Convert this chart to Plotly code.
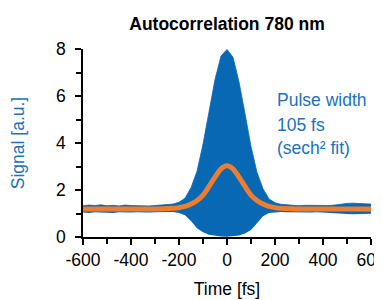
import plotly.graph_objects as go

# Time axis [fs]
time_fs = list(range(-600, 625, 25))

# Interferometric autocorrelation: upper and lower envelope of the fringes
upper_env = [1.33, 1.36, 1.34, 1.37, 1.33, 1.35, 1.32, 1.36, 1.34, 1.33,
             1.35, 1.32, 1.34, 1.35, 1.37, 1.40, 1.48, 1.65, 2.10, 2.80,
             3.95, 5.35, 6.70, 7.70, 7.98, 7.65, 6.60, 5.25, 3.85, 2.75,
             2.05, 1.62, 1.46, 1.39, 1.36, 1.34, 1.33, 1.35, 1.34, 1.33,
             1.35, 1.34, 1.36, 1.40, 1.43, 1.44, 1.42, 1.43, 1.40]
lower_env = [1.04, 1.02, 1.05, 1.03, 1.04, 1.02, 1.05, 1.03, 1.04, 1.05,
             1.03, 1.04, 1.05, 1.04, 1.06, 1.06, 1.02, 0.93, 0.68, 0.37,
             0.20, 0.10, 0.05, 0.02, 0.01, 0.02, 0.06, 0.15, 0.30, 0.58,
             0.88, 1.02, 1.05, 1.06, 1.05, 1.04, 1.05, 1.03, 1.04, 1.05,
             1.03, 1.04, 1.02, 0.99, 0.98, 0.97, 0.98, 0.98, 0.99]

# sech^2 fit (intensity autocorrelation)
fit_vals = [1.19, 1.19, 1.19, 1.19, 1.19, 1.19, 1.19, 1.19, 1.19, 1.19,
            1.19, 1.19, 1.19, 1.20, 1.21, 1.22, 1.25, 1.30, 1.40, 1.55,
            1.78, 2.15, 2.55, 2.90, 3.03, 2.90, 2.55, 2.15, 1.78, 1.55,
            1.40, 1.30, 1.25, 1.22, 1.21, 1.20, 1.19, 1.19, 1.19, 1.19,
            1.19, 1.19, 1.19, 1.19, 1.19, 1.19, 1.19, 1.19, 1.19]

x_ticks = [-600, -400, -200, 0, 200, 400, 600]
y_ticks = [0, 2, 4, 6, 8]

BLUE = "#0868b4"
TXT_BLUE = "#1a72c0"
ORANGE = "#ed7d31"
FONT = "Liberation Sans"
FS = 17.5

fig = go.Figure()
fig.add_trace(go.Scatter(x=time_fs, y=lower_env, mode="lines",
                         line=dict(width=0, color=BLUE), showlegend=False,
                         hoverinfo="skip"))
fig.add_trace(go.Scatter(x=time_fs, y=upper_env, mode="lines",
                         line=dict(width=0.8, color=BLUE), fill="tonexty",
                         fillcolor=BLUE, showlegend=False))
fig.add_trace(go.Scatter(x=time_fs, y=fit_vals, mode="lines",
                         line=dict(width=5, color=ORANGE, shape="spline"),
                         showlegend=False))

fig.update_layout(
    width=374, height=292,
    margin=dict(l=75, r=11, t=41, b=63),
    paper_bgcolor="white", plot_bgcolor="white",
    font=dict(family=FONT, size=FS, color="black"),
    title=dict(text="<b>Autocorrelation 780 nm</b>", x=0.5, xref="paper",
               xanchor="center", y=0.945, yanchor="middle",
               font=dict(family=FONT, size=FS, color="black")),
    xaxis=dict(range=[-600, 600], tickvals=x_ticks, ticktext=[str(v) for v in x_ticks],
               showgrid=False, zeroline=False, showline=True, linecolor="black",
               linewidth=1.5, ticks="outside", ticklen=6, tickwidth=1.5,
               tickcolor="black", automargin=False, ticklabeloverflow="allow",
               minor=dict(dtick=100, ticks="outside", ticklen=5, tickwidth=1.5,
                          tickcolor="black", showgrid=False),
               title=dict(text="Time [fs]", standoff=14,
                          font=dict(family=FONT, size=FS, color="black"))),
    yaxis=dict(range=[0, 8], tickvals=y_ticks, showgrid=False, zeroline=False,
               showline=True, linecolor="black", linewidth=1.5, ticks="outside",
               ticklen=6, tickwidth=1.5, tickcolor="black", automargin=False,
               ticklabelstandoff=6,
               minor=dict(dtick=1, ticks="outside", ticklen=5, tickwidth=1.5,
                          tickcolor="black", showgrid=False),
               title=dict(text="Signal [a.u.]", standoff=30,
                          font=dict(family=FONT, size=FS, color=TXT_BLUE))),
)

ann_lines = ["Pulse width", "105 fs", "(sech² fit)"]
ann_y = [5.83, 4.77, 3.79]
for txt, yy in zip(ann_lines, ann_y):
    fig.add_annotation(x=200, y=yy, text=txt, showarrow=False, xanchor="left",
                       yanchor="middle", font=dict(family=FONT, size=FS, color=TXT_BLUE))

fig.write_html("out.html")
